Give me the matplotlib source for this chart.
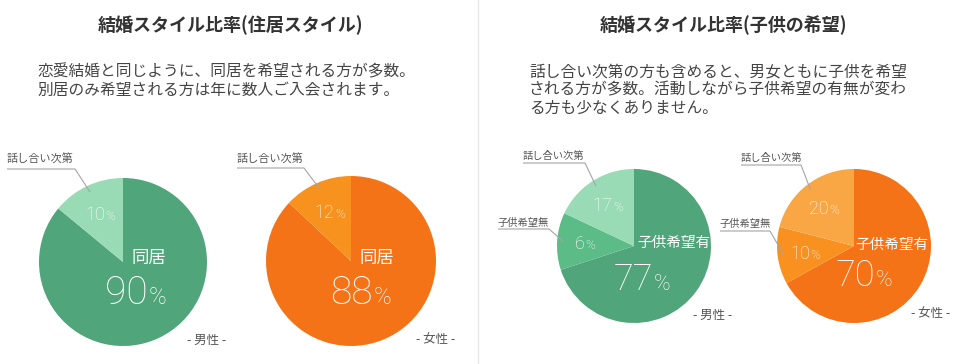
import numpy as np
import matplotlib
matplotlib.use("Agg")
import matplotlib.pyplot as plt

# ---------------- data ----------------
titles = ["結婚スタイル比率(住居スタイル)", "結婚スタイル比率(子供の希望)"]
bodies = [
    ["恋愛結婚と同じように、同居を希望される方が多数。",
     "別居のみ希望される方は年に数人ご入会されます。"],
    ["話し合い次第の方も含めると、男女ともに子供を希望",
     "される方が多数。活動しながら子供希望の有無が変わ",
     "る方も少なくありません。"],
]
home_categories = ["同居", "話し合い次第"]
child_categories = ["子供希望有", "子供希望無", "話し合い次第"]
genders = ["男性", "女性", "男性", "女性"]

# percentages written on the chart
male_home_pct = [90, 10]
female_home_pct = [88, 12]
male_child_pct = [77, 6, 17]
female_child_pct = [70, 10, 20]

# slice sizes as actually drawn in the picture (measured wedge angles)
male_home_drawn = [86, 14]
female_home_drawn = [87, 13]
male_child_drawn = [70, 12, 18]
female_child_drawn = [67, 12, 21]

green_home = ["#51a57a", "#99dbb5"]
green_child = ["#51a57a", "#5cbc87", "#99dbb5"]
orange_home = ["#f47317", "#f7921f"]
orange_child = ["#f47317", "#f8911f", "#f9a744"]

# ---------------- layout ----------------
W, H = 960, 364
JP = ["Noto Sans CJK JP", "DejaVu Sans"]
NUM = ["Roboto", "DejaVu Sans"]

fig = plt.figure(figsize=(9.6, 3.64), dpi=100)
fig.patch.set_facecolor("white")


def add_pie(cx, cy, r, sizes, colors):
    ax = fig.add_axes([(cx - r) / W, 1 - (cy + r) / H, 2 * r / W, 2 * r / H])
    wedges, _ = ax.pie(sizes, colors=colors, startangle=90, counterclock=False,
                       radius=1, wedgeprops=dict(linewidth=0))
    ax.set_xlim(-1, 1)
    ax.set_ylim(-1, 1)
    ax.axis("off")
    return wedges


pies = [
    dict(c=(123, 262), r=84, sizes=male_home_drawn, pct=male_home_pct,
         colors=green_home, cats=home_categories, big=28, bigp=17,
         name_off=(26, -4), num_off=(25, 28), name_fs=12.5,
         leaders={1: ((7, 159), 75, 169)}, gender_pos=(207, 340)),
    dict(c=(351, 261), r=85, sizes=female_home_drawn, pct=female_home_pct,
         colors=orange_home, cats=home_categories, big=28, bigp=17,
         name_off=(26, -3), num_off=(22, 29), name_fs=12.5,
         leaders={1: ((237, 159), 304, 168)}, gender_pos=(436, 340)),
    dict(c=(634, 246), r=77, sizes=male_child_drawn, pct=male_child_pct,
         colors=green_child, cats=child_categories, big=26, bigp=16,
         name_off=(40, -3), num_off=(19, 31), name_fs=10.5,
         leaders={2: ((523, 156), 585, 163), 1: ((498, 223), 549, 229)},
         gender_pos=(713, 315)),
    dict(c=(854, 246), r=77, sizes=female_child_drawn, pct=female_child_pct,
         colors=orange_child, cats=child_categories, big=26, bigp=16,
         name_off=(38, -1), num_off=(21, 27), name_fs=10.5,
         leaders={2: ((741, 158), 801, 165), 1: ((720, 224), 770, 231)},
         gender_pos=(931, 314)),
]

for p in pies:
    p["wedges"] = add_pie(p["c"][0], p["c"][1], p["r"], p["sizes"], p["colors"])

ov = fig.add_axes([0, 0, 1, 1], zorder=10)
ov.set_xlim(0, W)
ov.set_ylim(H, 0)
ov.axis("off")

# divider
ov.plot([478, 478], [0, H], color="#e6e6e6", lw=1.0)

# titles and body text
for tx, title in zip([230, 723], titles):
    ov.text(tx, 25, title, ha="center", va="center", fontsize=13,
            fontweight="bold", color="#333333", family=JP)
for x0, lines, fs in zip([37, 529], bodies, [11.3, 11.3]):
    for i, line in enumerate(lines):
        ov.text(x0, 72 + 18 * i, line, ha="left", va="center", fontsize=fs,
                color="#444444", family=JP)


def pct_text(xc, yc, val, fs_num, fs_pct, right=None):
    em_n = fs_num / 0.72
    em_p = fs_pct / 0.72
    nw = len(str(val)) * 0.56 * em_n
    pw = 0.78 * em_p
    if right is None:
        right = xc + (nw + pw) / 2 - pw
    base = yc + 0.36 * em_n
    ov.text(right, base, str(val), ha="right", va="baseline", fontsize=fs_num,
            color="white", family=NUM, fontweight="light")
    ov.text(right + 0.5, base, "%", ha="left", va="baseline", fontsize=fs_pct,
            color="white", family=NUM, fontweight="light")


for k, p in enumerate(pies):
    cx, cy = p["c"]
    r = p["r"]
    wedges = p["wedges"]
    # main slice labels
    ov.text(cx + p["name_off"][0], cy + p["name_off"][1], p["cats"][0],
            ha="center", va="center", fontsize=p["name_fs"], color="white",
            family=JP)
    pct_text(None, cy + p["num_off"][1], p["pct"][0], p["big"], p["bigp"],
             right=cx + p["num_off"][0])
    # minor slices
    for i in range(1, len(wedges)):
        w = wedges[i]
        th = np.deg2rad((w.theta1 + w.theta2) / 2)
        lx = cx + 0.64 * r * np.cos(th)
        ly = cy - 0.64 * r * np.sin(th)
        pct_text(lx, ly, p["pct"][i], 13, 9.5)
        (tx, ty), ux, uy = p["leaders"][i]
        fs = 8 if len(wedges) == 2 else 7.4
        ov.text(tx, ty, p["cats"][i], ha="left", va="center", fontsize=fs,
                color="#555555", family=JP)
        ex = cx + 0.92 * r * np.cos(th)
        ey = cy - 0.92 * r * np.sin(th)
        ov.plot([tx, ux, ex], [uy, uy, ey], color="#a5a5a5", lw=0.8,
                solid_capstyle="butt")
    gx, gy = p["gender_pos"]
    ov.text(gx, gy, "- " + genders[k] + " -", ha="center",
            va="center", fontsize=9, color="#555555", family=JP)

fig.savefig("out.png", dpi=100, facecolor="white")
